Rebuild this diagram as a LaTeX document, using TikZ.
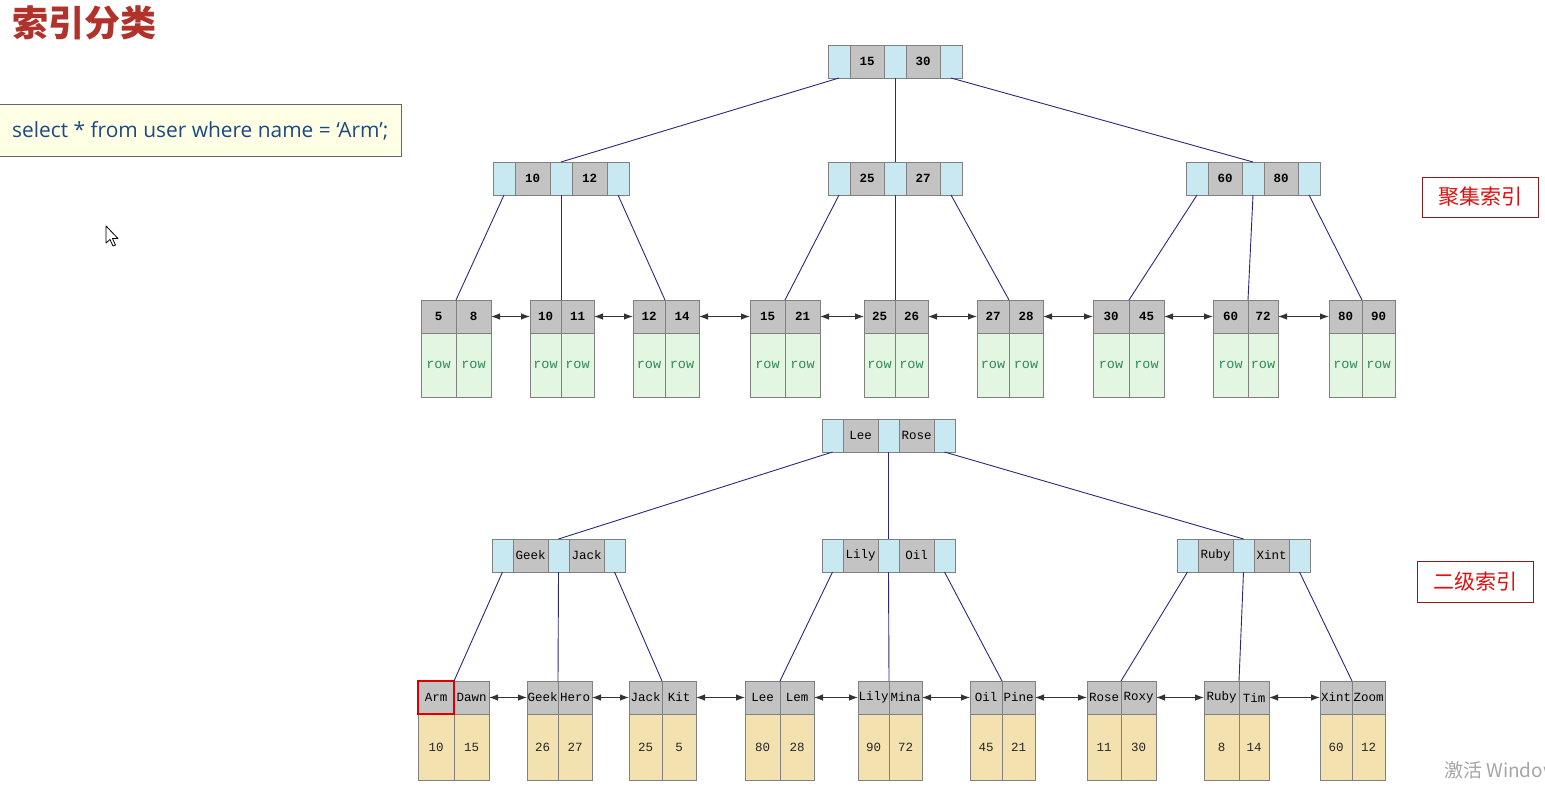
\documentclass[tikz,border=0pt]{standalone}
\usepackage{fontspec}
\usetikzlibrary{arrows.meta}
\newfontfamily\cjk{Noto Sans CJK SC}
\newfontfamily\monof{Liberation Mono}
\newfontfamily\sansf{Open Sans}
\definecolor{ptr}{HTML}{C8E8F2}
\definecolor{keyg}{HTML}{C3C3C3}
\definecolor{rowg}{HTML}{E3F6E1}
\definecolor{valy}{HTML}{F3E2B0}
\definecolor{cellb}{HTML}{808080}
\definecolor{linkc}{HTML}{2A2A78}
\definecolor{rowtxt}{HTML}{2E8B57}
\definecolor{titlered}{HTML}{B0322A}
\definecolor{sqlblue}{HTML}{1C4A80}
\definecolor{sqlbg}{HTML}{FFFFE6}
\definecolor{lblred}{HTML}{E01010}
\definecolor{lblbord}{HTML}{8B1A1A}
\tikzset{
  boxcell/.style={draw=cellb, line width=0.8pt, inner sep=0pt, outer sep=0pt, anchor=north west},
  pcell/.style={boxcell, fill=ptr, minimum height=33pt},
  kcell/.style={boxcell, fill=keyg, minimum height=33pt, font=\monof\fontsize{12.5}{14}\selectfont},
  vcell/.style={boxcell, fill=rowg, minimum height=64pt, text=rowtxt, font=\monof\fontsize{13.5}{15}\selectfont},
  linkline/.style={draw=linkc, line width=0.9pt},
  dbl/.style={draw=black!80, line width=1pt, {Latex[length=9pt,width=6.5pt]}-{Latex[length=9pt,width=6.5pt]}},
}
\newcommand\inode[7]{%
  \node[pcell, minimum width=#4pt] (#1-p1) at (#2,#3) {};
  \node[kcell, minimum width=#5pt] (#1-k1) at (#1-p1.north east) {#6};
  \node[pcell, minimum width=#4pt] (#1-p2) at (#1-k1.north east) {};
  \node[kcell, minimum width=#5pt] (#1-k2) at (#1-p2.north east) {#7};
  \node[pcell, minimum width=#4pt] (#1-p3) at (#1-k2.north east) {};
}
\newcommand\leaf[9]{%
  \node[kcell, minimum width=#4pt] (#1-a) at (#2,#3) {#6};
  \node[kcell, minimum width=#5pt] (#1-b) at (#1-a.north east) {#7};
  \node[vcell, minimum width=#4pt] (#1-va) at (#1-a.south west) {#8};
  \node[vcell, minimum width=#5pt] (#1-vb) at (#1-b.south west) {#9};
}
\begin{document}
\begin{tikzpicture}[x=1pt,y=-1pt]
\useasboundingbox[fill=white] (0,0) rectangle (1545,787);

% title
\node[anchor=west, inner sep=0pt, text=titlered, font=\cjk\bfseries\fontsize{36}{40}\selectfont] (title) at (12,23) {索引分类};

% SQL box
\node[draw=black!60, fill=sqlbg, line width=0.9pt, inner sep=0pt, outer sep=0pt, anchor=north west, minimum width=402pt, minimum height=52pt] (sql) at (-1,104) {};
\node[anchor=west, inner sep=0pt, text=sqlblue, font=\sansf\fontsize{20.9}{24}\selectfont] (sqltext) at (12,131) {select * from user where name = ‘Arm’;};

% cursor
\draw[fill=white, draw=black, line width=0.8pt, line join=round] (106,226) -- (106,243) -- (110,239.5) -- (113,246) -- (115.5,245) -- (112.5,238.5) -- (118,238.5) -- cycle;

% labels
\node[draw=lblbord, line width=0.9pt, minimum width=116pt, minimum height=40pt, inner sep=0pt, text=lblred, font=\cjk\fontsize{21}{24}\selectfont] (lab1) at (1480,197) {聚集索引};
\node[draw=lblbord, line width=0.9pt, minimum width=116pt, minimum height=41pt, inner sep=0pt, text=lblred, font=\cjk\fontsize{21}{24}\selectfont] (lab2) at (1475,581.5) {二级索引};

% ===== clustered index tree =====
\begin{scope}[kcell/.append style={font=\monof\bfseries\fontsize{12.5}{14}\selectfont}]
\inode{R}{828}{45}{22}{34}{15}{30}
\inode{A}{493}{162}{22}{35}{10}{12}
\inode{B}{828}{162}{22}{34}{25}{27}
\inode{C}{1186}{162}{22}{34}{60}{80}
\leaf{T1}{421}{300}{35}{35}{5}{8}{row}{row}
\leaf{T2}{530}{300}{31}{33}{10}{11}{row}{row}
\leaf{T3}{633}{300}{32}{34}{12}{14}{row}{row}
\leaf{T4}{750}{300}{35}{35}{15}{21}{row}{row}
\leaf{T5}{864}{300}{31}{33}{25}{26}{row}{row}
\leaf{T6}{977}{300}{32}{34}{27}{28}{row}{row}
\leaf{T7}{1093}{300}{36}{35}{30}{45}{row}{row}
\leaf{T8}{1213}{300}{35}{30}{60}{72}{row}{row}
\leaf{T9}{1329}{300}{33}{33}{80}{90}{row}{row}
\end{scope}

\draw[linkline] (R-p1.south) -- (A-p2.north);
\draw[linkline] (R-p2.south) -- (B-p2.north);
\draw[linkline] (R-p3.south) -- (C-p2.north);
\draw[linkline] (A-p1.south) -- (T1-a.north east);
\draw[linkline] (A-p2.south) -- (T2-a.north east);
\draw[linkline] (A-p3.south) -- (T3-a.north east);
\draw[linkline] (B-p1.south) -- (T4-a.north east);
\draw[linkline] (B-p2.south) -- (T5-a.north east);
\draw[linkline] (B-p3.south) -- (T6-a.north east);
\draw[linkline] (C-p1.south) -- (T7-a.north east);
\draw[linkline] (C-p2.south) -- (T8-a.north east);
\draw[linkline] (C-p3.south) -- (T9-a.north east);
\foreach \u/\v in {T1/T2,T2/T3,T3/T4,T4/T5,T5/T6,T6/T7,T7/T8,T8/T9}
  \draw[dbl] (\u-b.east) -- (\v-a.west);

% ===== secondary index tree =====
\begin{scope}[vcell/.append style={fill=valy, minimum height=66pt, text=black!85, font=\monof\fontsize{12.5}{14}\selectfont}]
\inode{S}{822}{419}{21}{35}{Lee}{Rose}
\inode{D}{492}{539}{21}{35}{Geek}{Jack}
\inode{E}{822}{539}{21}{35}{Lily}{Oil}
\inode{F}{1177}{539}{21}{35}{Ruby}{Xint}
\leaf{U1}{418}{681}{36}{35}{Arm}{Dawn}{10}{15}
\leaf{U2}{527}{681}{31}{34}{Geek}{Hero}{26}{27}
\leaf{U3}{629}{681}{33}{34}{Jack}{Kit}{25}{5}
\leaf{U4}{745}{681}{35}{34}{Lee}{Lem}{80}{28}
\leaf{U5}{858}{681}{31}{33}{Lily}{Mina}{90}{72}
\leaf{U6}{970}{681}{32}{33}{Oil}{Pine}{45}{21}
\leaf{U7}{1087}{681}{34}{35}{Rose}{Roxy}{11}{30}
\leaf{U8}{1204}{681}{35}{30}{Ruby}{Tim}{8}{14}
\leaf{U9}{1320}{681}{32}{33}{Xint}{Zoom}{60}{12}
\end{scope}
\draw[draw=red!85!black, line width=1.6pt] (U1-a.north west) rectangle (U1-a.south east);

\draw[linkline] (S-p1.south) -- (D-p2.north);
\draw[linkline] (S-p2.south) -- (E-p2.north);
\draw[linkline] (S-p3.south) -- (F-p2.north);
\draw[linkline] (D-p1.south) -- (U1-a.north east);
\draw[linkline] (D-p2.south) -- (U2-a.north east);
\draw[linkline] (D-p3.south) -- (U3-a.north east);
\draw[linkline] (E-p1.south) -- (U4-a.north east);
\draw[linkline] (E-p2.south) -- (U5-a.north east);
\draw[linkline] (E-p3.south) -- (U6-a.north east);
\draw[linkline] (F-p1.south) -- (U7-a.north east);
\draw[linkline] (F-p2.south) -- (U8-a.north east);
\draw[linkline] (F-p3.south) -- (U9-a.north east);
\foreach \u/\v in {U1/U2,U2/U3,U3/U4,U4/U5,U5/U6,U6/U7,U7/U8,U8/U9}
  \draw[dbl] (\u-b.east) -- (\v-a.west);

% watermark
\begin{scope}
\clip (0,0) rectangle (1545,787);
\node[anchor=west, inner sep=0pt, text=black!35, font=\cjk\fontsize{19}{22}\selectfont] (wm) at (1444,770) {激活 Windows};
\end{scope}
\end{tikzpicture}
\end{document}
